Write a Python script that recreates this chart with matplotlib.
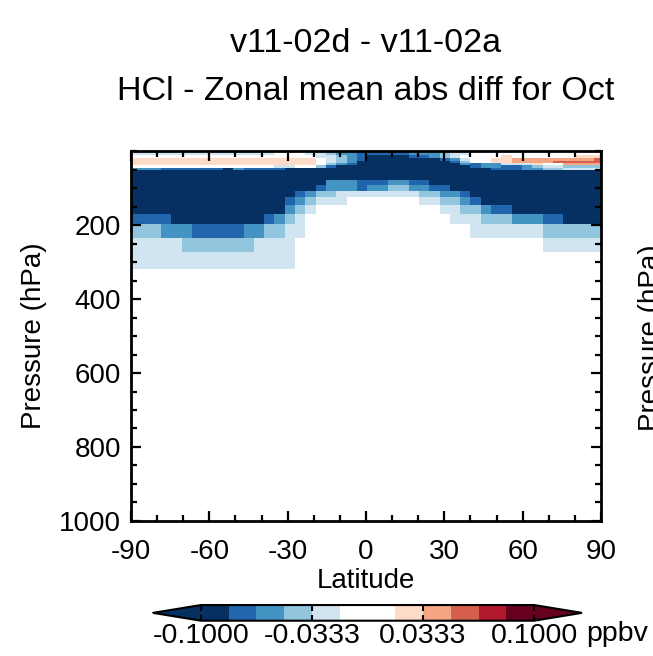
import numpy as np
import matplotlib
matplotlib.use('Agg')
import matplotlib.pyplot as plt
from matplotlib.colors import ListedColormap, BoundaryNorm
from matplotlib.ticker import MultipleLocator, FormatStrFormatter

plt.rcParams['font.family'] = ['Liberation Sans', 'DejaVu Sans']
plt.rcParams['axes.unicode_minus'] = False

# Grid: 46 latitude cells and pressure level edges (hPa), top to bottom
lat_edges = np.linspace(-90.35, 91.35, 47)
p_edges = [0, 5.4, 12, 19, 26, 32.5, 39, 46, 51.4, 78.5, 92, 107.4, 125.3,
           146, 170.5, 197.6, 235.5, 273.3, 319.4, 1000]

# Colour class -> representative value (ppbv)
code_vals = {'N': -0.12, 'b': -0.075, 'm': -0.058, 'l': -0.042, 'p': -0.025,
             '.': 0.005, 'o': 0.025, 's': 0.042, 'r': 0.058}

# Zonal mean difference, one run-length row per pressure layer (S -> N)
rows = [
    [('p', 14), ('.', 3), ('p', 2), ('l', 1), ('m', 2), ('b', 5), ('m', 3), ('l', 1), ('p', 2), ('.', 13)],
    [('p', 14), ('.', 3), ('p', 2), ('l', 1), ('m', 2), ('b', 5), ('m', 3), ('l', 1), ('p', 2), ('.', 13)],
    [('.', 18), ('p', 2), ('l', 1), ('m', 1), ('b', 1), ('N', 4), ('b', 2), ('m', 1), ('l', 1), ('p', 1),
     ('.', 4), ('o', 1), ('.', 6), ('o', 3)],
    [('o', 18), ('.', 1), ('p', 1), ('l', 1), ('m', 1), ('b', 1), ('N', 7), ('b', 1), ('m', 1), ('p', 1),
     ('.', 2), ('o', 2), ('s', 8), ('r', 1)],
    [('o', 18), ('.', 1), ('p', 1), ('l', 1), ('m', 1), ('N', 9), ('b', 1), ('l', 1), ('.', 2), ('o', 2),
     ('s', 4), ('r', 5)],
    [('o', 18), ('.', 1), ('l', 1), ('m', 1), ('b', 1), ('N', 10), ('m', 1), ('b', 1), ('m', 2), ('p', 3),
     ('o', 1), ('.', 2), ('s', 4)],
    [('.', 14), ('p', 2), ('.', 2), ('l', 1), ('b', 1), ('N', 13), ('b', 1), ('m', 2), ('b', 2), ('m', 1),
     ('l', 1), ('p', 2), ('l', 4)],
    [('m', 3), ('b', 6), ('N', 1), ('m', 1), ('b', 4), ('N', 20), ('b', 3), ('m', 2), ('l', 2), ('p', 4)],
    [('N', 46)],
    [('N', 19), ('m', 3), ('b', 3), ('m', 2), ('b', 2), ('N', 17)],
    [('N', 18), ('b', 1), ('m', 3), ('b', 1), ('m', 2), ('l', 2), ('m', 2), ('b', 2), ('N', 15)],
    [('N', 16), ('b', 1), ('m', 1), ('l', 2), ('p', 8), ('l', 2), ('m', 2), ('b', 1), ('N', 13)],
    [('N', 15), ('b', 1), ('m', 1), ('l', 1), ('p', 3), ('.', 7), ('p', 2), ('l', 2), ('m', 1), ('b', 1),
     ('N', 12)],
    [('N', 15), ('m', 1), ('l', 1), ('p', 1), ('.', 12), ('p', 2), ('l', 2), ('m', 1), ('b', 2), ('N', 9)],
    [('b', 4), ('N', 9), ('b', 1), ('m', 1), ('l', 1), ('p', 1), ('.', 14), ('p', 3), ('l', 3), ('m', 3),
     ('b', 2), ('N', 4)],
    [('l', 3), ('m', 3), ('b', 5), ('m', 2), ('l', 2), ('p', 2), ('.', 16), ('p', 7), ('l', 6)],
    [('p', 5), ('l', 7), ('p', 4), ('.', 24), ('p', 6)],
    [('p', 16), ('.', 30)],
    [('.', 46)],
]

levels = np.linspace(-0.1, 0.1, 13)
colors = ['#053061', '#2166ac', '#4393c3', '#92c5de', '#d1e5f0', '#ffffff',
          '#ffffff', '#fddbc7', '#f4a582', '#d6604d', '#b2182b', '#67001f']

# expand the run-length rows into the value grid
Z = []
for r in rows:
    line = []
    for code, n in r:
        line += [code_vals[code]] * n
    assert len(line) == 46
    Z.append(line)
Z = np.array(Z)

cmap = ListedColormap(colors)
cmap.set_under('#053061')
cmap.set_over('#67001f')
norm = BoundaryNorm(levels, cmap.N)

fig = plt.figure(figsize=(6.53, 6.56), dpi=100)
ax = fig.add_axes([0.2006, 0.2058, 0.7198, 0.564])
mesh = ax.pcolormesh(lat_edges, p_edges, Z, cmap=cmap, norm=norm)

ax.set_xlim(-90, 90)
ax.set_ylim(1000, 0)
ax.set_xticks(np.arange(-90, 91, 30))
ax.xaxis.set_minor_locator(MultipleLocator(10))
ax.set_yticks([200, 400, 600, 800, 1000])
ax.yaxis.set_minor_locator(MultipleLocator(50))
ax.tick_params(which='both', direction='in', top=True, right=True, width=1.6, labelsize=20)
ax.tick_params(which='major', length=7)
ax.tick_params(which='minor', length=4)
ax.tick_params(axis='x', pad=13)
ax.tick_params(axis='y', pad=7)
for s in ax.spines.values():
    s.set_linewidth(2)

ax.set_xlabel('Latitude', fontsize=20, labelpad=2)
ax.set_ylabel('Pressure (hPa)', fontsize=20, labelpad=9)

fig.text(0.5605, 0.933, 'v11-02d - v11-02a', fontsize=24.5, ha='center', va='center')
fig.text(0.5605, 0.861, 'HCl - Zonal mean abs diff for Oct', fontsize=24.5, ha='center', va='center')

# neighbouring panel's axis label, cut off at the right edge as in the original
fig.text(638 / 653, 0.485, 'Pressure (hPa)', fontsize=20, rotation=90, ha='left', va='center')

cax = fig.add_axes([0.2343, 0.0538, 0.657, 0.0239])
cb = fig.colorbar(mesh, cax=cax, orientation='horizontal', extend='both',
                  extendfrac=0.144, ticks=[-0.1, -0.0333, 0.0333, 0.1])
cb.ax.xaxis.set_major_formatter(FormatStrFormatter('%.4f'))
cb.ax.tick_params(direction='in', length=4, width=1.5, labelsize=20.5, top=True, pad=2)
cb.ax.minorticks_off()
cb.outline.set_linewidth(1.5)
fig.text(586 / 653, 0.0335, 'ppbv', fontsize=20.5, va='center')

plt.savefig('out.png', dpi=100)
